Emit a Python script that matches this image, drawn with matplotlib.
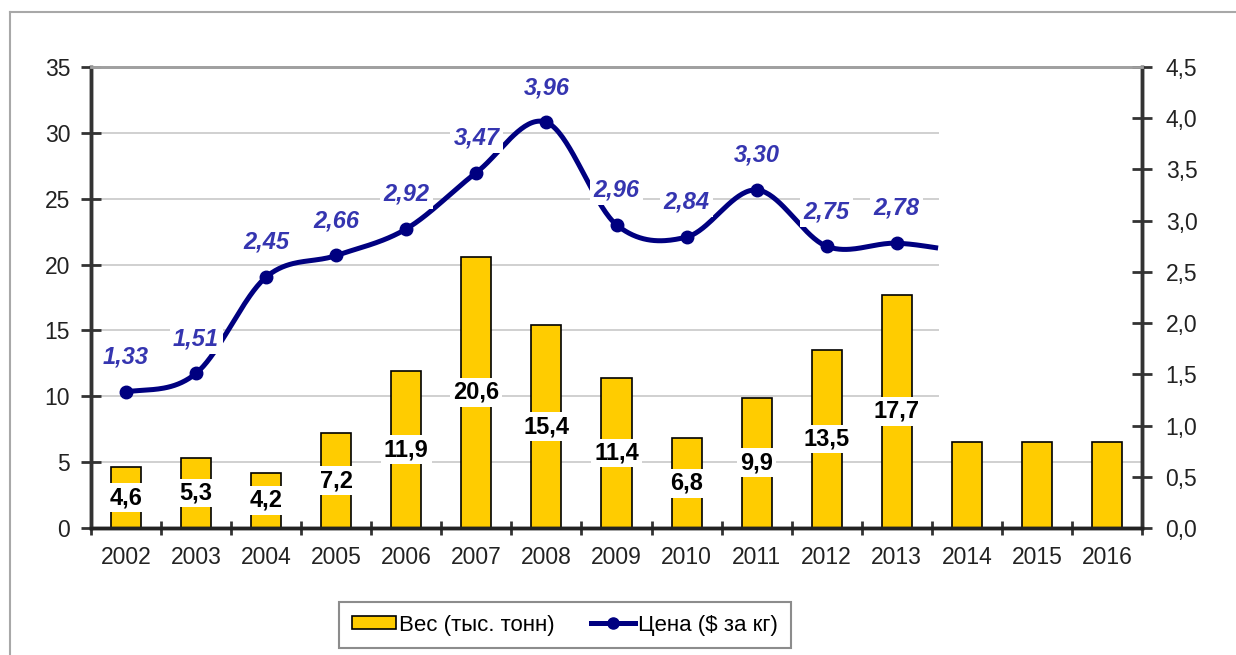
import numpy as np
import matplotlib
matplotlib.use('Agg')
import matplotlib.pyplot as plt
from matplotlib.patches import Patch
from matplotlib.lines import Line2D
from matplotlib.ticker import FuncFormatter

plt.rcParams['font.family'] = ['Liberation Sans', 'DejaVu Sans']

years = ['2002', '2003', '2004', '2005', '2006', '2007', '2008', '2009',
         '2010', '2011', '2012', '2013', '2014', '2015', '2016']
weight = [4.6, 5.3, 4.2, 7.2, 11.9, 20.6, 15.4, 11.4, 6.8, 9.9, 13.5, 17.7, 6.5, 6.5, 6.5]
weight_labels = ['4,6', '5,3', '4,2', '7,2', '11,9', '20,6', '15,4', '11,4',
                 '6,8', '9,9', '13,5', '17,7']
price = [1.33, 1.51, 2.45, 2.66, 2.92, 3.47, 3.96, 2.96, 2.84, 3.30, 2.75, 2.78]
price_2014 = 2.70   # line runs on toward 2014 but is cut off
price_labels = ['1,33', '1,51', '2,45', '2,66', '2,92', '3,47', '3,96', '2,96',
                '2,84', '3,30', '2,75', '2,78']

bar_color = '#FFCC00'
line_color = '#000080'
label_blue = '#3535b0'
cut_x = 11.6

W, H = 1236, 655
fig = plt.figure(figsize=(W / 100, H / 100), dpi=100)
ax = fig.add_axes([91 / W, 1 - 528 / H, (1142 - 91) / W, (528 - 67) / H])
ax2 = ax.twinx()

x = np.arange(len(years))

# grid (upper right part is blank in the original)
for g in range(5, 35, 5):
    xmax = len(years) - 0.5 if g < 7 else cut_x
    ax.hlines(g, -0.5, xmax, color='#c8c8c8', lw=1.2, zorder=0)

ax.bar(x, weight, width=0.43, color=bar_color, edgecolor='black', linewidth=1.2, zorder=2)
for i, lab in enumerate(weight_labels):
    ax.text(x[i], weight[i] / 2, lab, ha='center', va='center', fontsize=17,
            fontweight='bold', color='black', zorder=5,
            bbox=dict(boxstyle='square,pad=0.12', fc='white', ec='none'))

ax.set_xlim(-0.5, len(years) - 0.5)
ax.set_ylim(0, 35)
ax2.set_ylim(0, 4.5)
ax.set_yticks(range(0, 36, 5))
ax2.set_yticks(np.arange(0, 4.51, 0.5))
ax2.yaxis.set_major_formatter(FuncFormatter(lambda v, p: f'{v:.1f}'.replace('.', ',')))

ax.set_xticks(np.arange(-0.5, len(years), 1.0))
ax.set_xticklabels([])
ax.set_xticks(x, minor=True)
ax.set_xticklabels(years, minor=True)
ax.tick_params(axis='x', which='major', direction='inout', length=10, width=2, color='#333333')
ax.tick_params(axis='x', which='minor', length=0, pad=13, labelsize=16.5, labelcolor='#222222')
ax.tick_params(axis='y', direction='inout', length=14, width=2, color='#333333',
               pad=8, labelsize=16.5, labelcolor='#222222')
ax2.tick_params(axis='y', direction='inout', length=14, width=2, color='#333333',
                pad=10, labelsize=16.5, labelcolor='#222222')

for a in (ax, ax2):
    a.spines['left'].set_color('#333333')
    a.spines['left'].set_linewidth(2.5)
    a.spines['right'].set_color('#333333')
    a.spines['right'].set_linewidth(2.5)
    a.spines['bottom'].set_color('#222222')
    a.spines['bottom'].set_linewidth(2.5)
    a.spines['top'].set_color('#a0a0a0')
    a.spines['top'].set_linewidth(2)

# smoothed price line (Catmull-Rom like Excel's smoothing)
py = np.array(price + [price_2014])
n = len(py)
xs, ys = [], []
for i in range(n - 1):
    m0 = (py[min(i + 1, n - 1)] - py[max(i - 1, 0)]) / 2
    m1 = (py[min(i + 2, n - 1)] - py[i]) / 2
    t = np.linspace(0, 1, 40)
    h00 = 2 * t**3 - 3 * t**2 + 1
    h10 = t**3 - 2 * t**2 + t
    h01 = -2 * t**3 + 3 * t**2
    h11 = t**3 - t**2
    xs.append(i + t)
    ys.append(h00 * py[i] + h10 * m0 + h01 * py[i + 1] + h11 * m1)
xs = np.concatenate(xs)
ys = np.concatenate(ys)
keep = xs <= cut_x
ax2.plot(xs[keep], ys[keep], color=line_color, lw=3.6, zorder=3, solid_capstyle='butt')
ax2.plot(x[:len(price)], price, 'o', color=line_color, ms=9, zorder=3)

for i, lab in enumerate(price_labels):
    ax2.annotate(lab, (x[i], price[i]), xytext=(0, 25), textcoords='offset points',
                 ha='center', va='center', fontsize=17, fontweight='bold',
                 fontstyle='italic', color=label_blue, zorder=6,
                 bbox=dict(boxstyle='square,pad=0.15', fc='white', ec='none'))

ax.set_zorder(1)
ax2.set_zorder(2)
ax.patch.set_visible(False)
ax2.patch.set_visible(False)

handles = [Patch(facecolor=bar_color, edgecolor='black', linewidth=1.2),
           Line2D([], [], color=line_color, lw=3.6, marker='o', ms=8)]
leg = fig.legend(handles, ['Вес (тыс. тонн)', 'Цена ($ за кг)'], loc='center',
                 bbox_to_anchor=(565 / W, 1 - 625 / H), ncol=2, frameon=True,
                 fancybox=False, handlelength=2.0, handleheight=0.55, columnspacing=1.6,
                 handletextpad=0.15, borderpad=0.55,
                 prop={'family': ['Liberation Sans Narrow', 'Liberation Sans'], 'size': 16})
leg.get_frame().set_edgecolor('#707070')
leg.get_frame().set_linewidth(1.5)

# outer frame of the picture
fig.add_artist(Line2D([10 / W, 10 / W], [0, 1 - 12 / H], transform=fig.transFigure,
                      color='#a8a8a8', lw=1.5))
fig.add_artist(Line2D([10 / W, 1], [1 - 12 / H, 1 - 12 / H], transform=fig.transFigure,
                      color='#a8a8a8', lw=1.5))

fig.savefig('out.png', dpi=100)
